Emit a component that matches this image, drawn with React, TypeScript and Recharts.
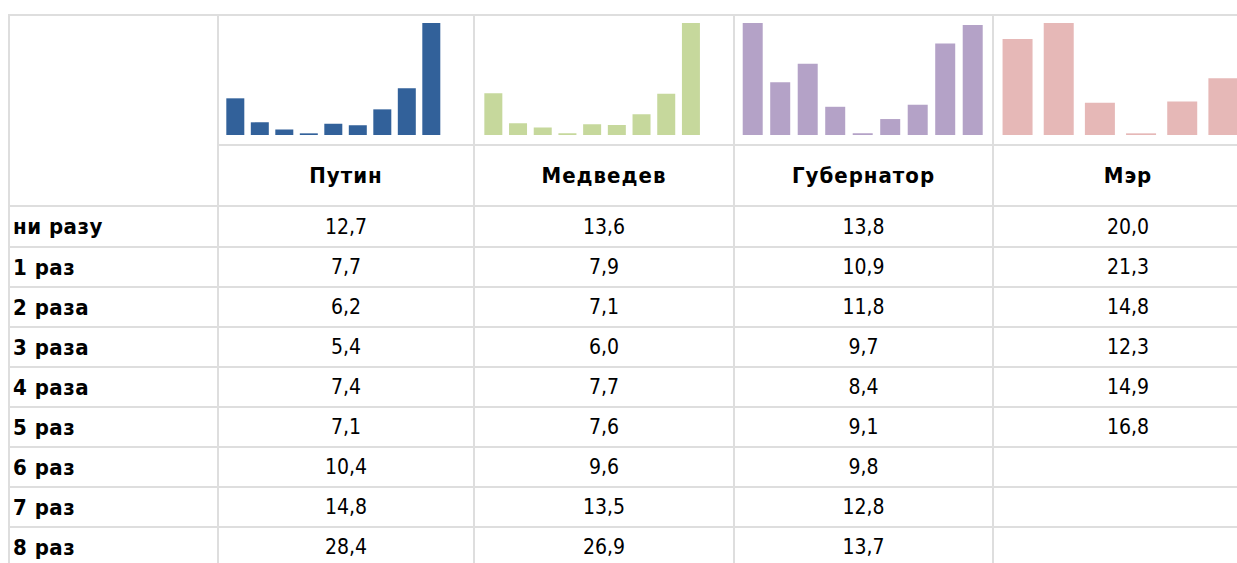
import React from 'react';
import { BarChart, Bar, XAxis, YAxis } from 'recharts';

const categories = ['ни разу', '1 раз', '2 раза', '3 раза', '4 раза', '5 раз', '6 раз', '7 раз', '8 раз'];
const seriesNames = ['Путин', 'Медведев', 'Губернатор', 'Мэр'];
const putin = [12.7, 7.7, 6.2, 5.4, 7.4, 7.1, 10.4, 14.8, 28.4];
const medvedev = [13.6, 7.9, 7.1, 6.0, 7.7, 7.6, 9.6, 13.5, 26.9];
const governor = [13.8, 10.9, 11.8, 9.7, 8.4, 9.1, 9.8, 12.8, 13.7];
const mayor = [20.0, 21.3, 14.8, 12.3, 14.9, 16.8];

const seriesValues = [putin, medvedev, governor, mayor];
const colors = ['#32619a', '#c6d89c', '#b4a2c7', '#e6b8b7'];

// layout (styling only)
const colX = [8, 217, 473, 733, 992, 1262];
const rowY = [205, 246, 286, 326, 366, 406, 446, 486, 526, 566];
const topY = 14;
const nameRowY = 144;
const sparkTop = 23;
const sparkHeight = 112;
const sparkPlots = [
  { left: 222.7, width: 220.5 },
  { left: 481, width: 222.3 },
  { left: 739, width: 247.5 },
  { left: 996.8, width: 247 },
];
const lineColor = '#dedede';
const lineW = 2;
const FONT = '"DejaVu Sans Condensed", "DejaVu Sans", Verdana, sans-serif';

const fmt = (v: number) => v.toFixed(1).replace('.', ',');

function Spark({ idx }: { idx: number }) {
  const values = seriesValues[idx];
  const data = values.map((v, i) => ({ cat: categories[i], v }));
  const lo = Math.min(...values);
  const hi = Math.max(...values);
  const p = sparkPlots[idx];
  return (
    <div style={{ position: 'absolute', left: p.left, top: sparkTop, width: p.width, height: sparkHeight }}>
      <BarChart
        width={p.width}
        height={sparkHeight}
        data={data}
        margin={{ top: 0, right: 0, bottom: 0, left: 0 }}
        barCategoryGap="13.5%"
      >
        <XAxis dataKey="cat" hide />
        <YAxis hide type="number" domain={[lo - (hi - lo) * 0.015, hi]} allowDataOverflow />
        <Bar dataKey="v" fill={colors[idx]} isAnimationActive={false} />
      </BarChart>
    </div>
  );
}

export default function App() {
  const W = 1237;
  const H = 563;
  const lines: React.ReactNode[] = [];
  colX.forEach((x, i) => {
    lines.push(
      <div key={'v' + i} style={{ position: 'absolute', left: x, top: topY, width: lineW, height: H - topY, background: lineColor }} />
    );
  });
  lines.push(<div key="ht" style={{ position: 'absolute', left: colX[0], top: topY, width: W - colX[0], height: lineW, background: lineColor }} />);
  lines.push(<div key="hn" style={{ position: 'absolute', left: colX[1], top: nameRowY, width: W - colX[1], height: lineW, background: lineColor }} />);
  rowY.forEach((y, i) => {
    lines.push(
      <div key={'h' + i} style={{ position: 'absolute', left: colX[0], top: y, width: W - colX[0], height: lineW, background: lineColor }} />
    );
  });

  const texts: React.ReactNode[] = [];
  seriesNames.forEach((name, c) => {
    texts.push(
      <div
        key={'n' + c}
        style={{
          position: 'absolute',
          left: colX[c + 1] + lineW,
          top: nameRowY + lineW,
          width: colX[c + 2] - colX[c + 1] - lineW,
          height: rowY[0] - nameRowY - lineW,
          display: 'flex',
          alignItems: 'center',
          justifyContent: 'center',
          fontFamily: FONT,
          fontWeight: 'bold',
          fontSize: 22,
          letterSpacing: 1,
          color: '#000',
        }}
      >
        {name}
      </div>
    );
  });
  categories.forEach((cat, r) => {
    const top = rowY[r] + lineW;
    const h = rowY[r + 1] - rowY[r] - lineW;
    texts.push(
      <div
        key={'c' + r}
        style={{
          position: 'absolute',
          left: colX[0] + lineW + 3,
          top,
          height: h,
          display: 'flex',
          alignItems: 'center',
          fontFamily: FONT,
          fontWeight: 'bold',
          fontSize: 22,
          letterSpacing: 0.5,
          color: '#000',
          whiteSpace: 'nowrap',
        }}
      >
        {cat}
      </div>
    );
    seriesValues.forEach((vals, c) => {
      if (r >= vals.length) return;
      texts.push(
        <div
          key={'d' + r + '-' + c}
          style={{
            position: 'absolute',
            left: colX[c + 1] + lineW,
            top,
            width: colX[c + 2] - colX[c + 1] - lineW,
            height: h,
            display: 'flex',
            alignItems: 'center',
            justifyContent: 'center',
            fontFamily: FONT,
            fontSize: 21,
            color: '#000',
          }}
        >
          {fmt(vals[r])}
        </div>
      );
    });
  });

  return (
    <div style={{ position: 'fixed', left: 0, top: 0, width: W, height: H, overflow: 'hidden', background: '#fff' }}>
      {lines}
      {seriesNames.map((_, i) => (
        <Spark key={i} idx={i} />
      ))}
      {texts}
    </div>
  );
}
